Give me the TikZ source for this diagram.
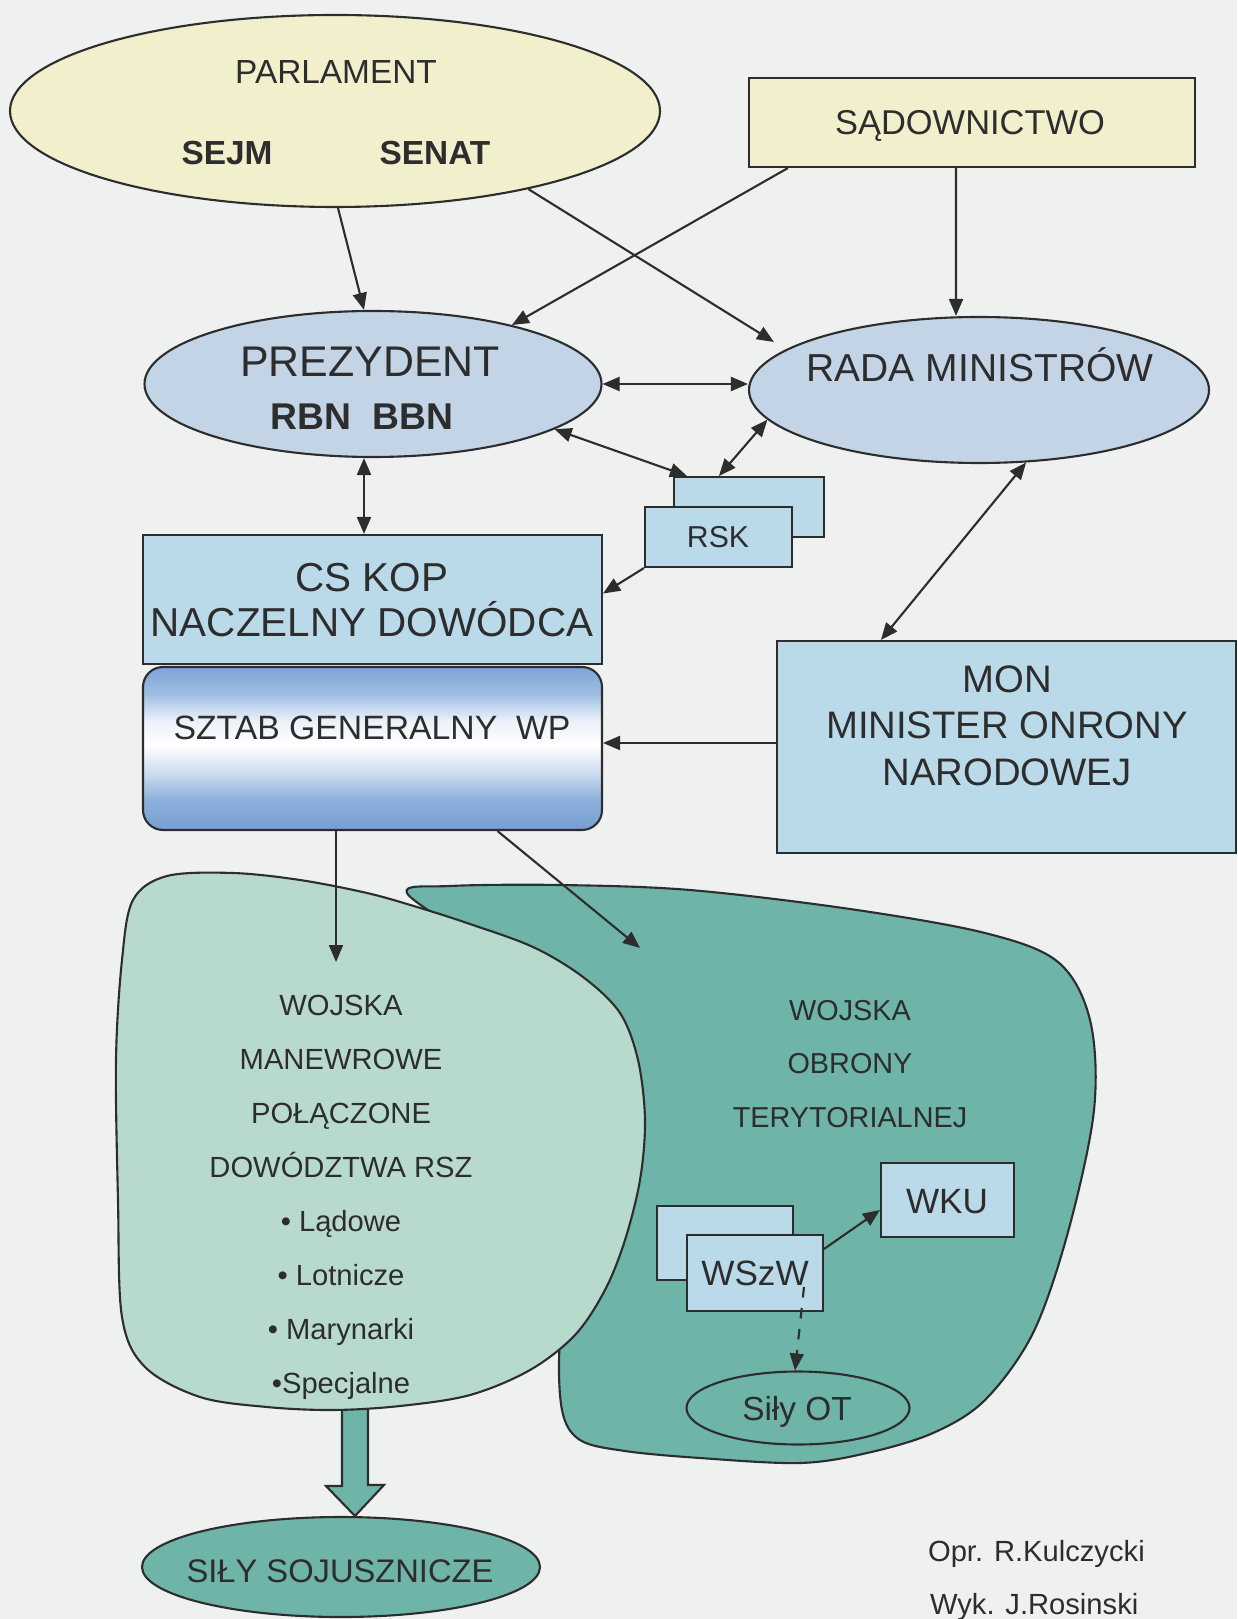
\documentclass[tikz,border=0pt]{standalone}
\usepackage{fontspec}
\setmainfont{Liberation Sans}
\usetikzlibrary{arrows.meta,shapes.geometric,calc}

\definecolor{bgcol}{RGB}{238,241,240}
\definecolor{linecol}{RGB}{45,45,45}
\definecolor{txtcol}{RGB}{45,45,45}
\definecolor{parlfill}{RGB}{241,239,204}
\definecolor{ovalblue}{RGB}{194,212,230}
\definecolor{boxblue}{RGB}{186,218,233}
\definecolor{sztabtop}{RGB}{125,165,214}
\definecolor{sztabup}{RGB}{160,190,228}
\definecolor{sztabpale}{RGB}{235,242,250}
\definecolor{sztablight}{RGB}{200,218,238}
\definecolor{sztabmid}{RGB}{140,175,220}
\definecolor{sztabbot}{RGB}{118,158,208}
\definecolor{mwfill}{RGB}{184,218,204}
\definecolor{otfill}{RGB}{110,180,168}

\pgfdeclareverticalshading{sztabshade}{100bp}{color(0bp)=(sztabbot); color(25bp)=(sztabbot);
    color(34bp)=(sztabmid); color(42bp)=(sztablight); color(51bp)=(white);
    color(58.5bp)=(sztabpale); color(66.5bp)=(sztabup); color(75bp)=(sztabtop); color(100bp)=(sztabtop)}

\newcommand{\fsz}[1]{\fontsize{#1}{#1}\selectfont}

\begin{document}
\begin{tikzpicture}[
    x=0.1mm, y=-0.1mm,
    >={Triangle[length=1.7mm,width=1.4mm]},
    line width=0.6pt,
    oval/.style={ellipse, draw=linecol, inner sep=0pt},
    box/.style={rectangle, draw=linecol, fill=boxblue, inner sep=0pt},
    lbl/.style={anchor=base, text=txtcol, inner sep=0pt},
    conn/.style={->, draw=linecol},
    both/.style={<->, draw=linecol}
]
% page
\path[use as bounding box, fill=bgcol] (0,0) rectangle (1237,1619);

% Wojska obrony terytorialnej (behind)
\draw[linecol, fill=otfill] plot[smooth cycle, tension=0.55] coordinates {
    (407,893) (450,886) (560,885) (690,890) (850,909) (985,933) (1058,962)
    (1090,1020) (1094,1110) (1068,1232) (1033,1333) (985,1400) (933,1433)
    (867,1453) (800,1463) (700,1458) (625,1451) (580,1440) (562,1410)
    (560,1340) (575,1250) (600,1120) (545,1000) (480,945)};

% Allied forces and the wide arrow
\node[oval, fill=otfill, minimum width=39.8mm, minimum height=10mm] (sojusz) at (341,1567) {};
\node[lbl, font=\fsz{9.3}] (sojuszname) at (340,1582) {SIŁY SOJUSZNICZE};
\coordinate (mwbot) at (355,1395);
\draw[linecol, fill=otfill] ($(mwbot)+(-13,0)$) -- ++(0,91) -- ++(-16,0)
    -- (sojusz.north -| mwbot) -- ++(29,-31) -- ++(-16,0) -- ($(mwbot)+(13,0)$) -- cycle;

% Wojska manewrowe (in front)
\draw[linecol, fill=mwfill] plot[smooth cycle, tension=0.55] coordinates {
    (116,1060) (122,960) (133,900) (167,876) (233,873) (300,880) (367,893)
    (417,907) (467,923) (533,947) (583,977) (620,1013) (638,1060) (645,1120)
    (640,1180) (625,1240) (605,1290) (575,1335) (530,1370) (470,1395)
    (400,1406) (333,1410) (267,1407) (200,1397) (145,1367) (122,1317) (118,1200)};
\coordinate (mwin) at (336,962);
\coordinate (otin) at (640,948);

\foreach \t [count=\i] in {WOJSKA, MANEWROWE, POŁĄCZONE, DOWÓDZTWA RSZ,
    • Lądowe, • Lotnicze, • Marynarki, •Specjalne} {
    \node[lbl, font=\fsz{8.3}] (mw\i) at (341,{1015+54*(\i-1)}) {\t};
}
\foreach \t [count=\i] in {WOJSKA, OBRONY, TERYTORIALNEJ} {
    \node[lbl, font=\fsz{8.2}] (ot\i) at (850,{1020+53.5*(\i-1)}) {\t};
}

% Top level
\node[oval, fill=parlfill, minimum width=65mm, minimum height=19.2mm] (parl) at (335,111) {};
\node[lbl, font=\fsz{9.5}] (parlname) at (336,84) {PARLAMENT};
\node[lbl, font=\fsz{9.5}\bfseries] (sejm) at (227,165) {SEJM};
\node[lbl, font=\fsz{9.5}\bfseries] (senat) at (435,165) {SENAT};
\node[box, fill=parlfill, minimum width=44.6mm, minimum height=8.9mm] (sad) at (972,122.5) {};
\node[lbl, font=\fsz{9.8}] (sadname) at (970,135) {SĄDOWNICTWO};

% President and government
\node[oval, fill=ovalblue, minimum width=45.7mm, minimum height=14.6mm] (prez) at (373,384) {};
\node[lbl, font=\fsz{12.2}] (prezname) at (370,377) {PREZYDENT};
\node[lbl, font=\fsz{10.6}\bfseries] (rbn) at (362,430) {RBN\ \ BBN};
\node[oval, fill=ovalblue, minimum width=46mm, minimum height=14.6mm] (rada) at (979,390) {};
\node[lbl, font=\fsz{11.1}] (radaname) at (980,382) {RADA MINISTRÓW};

% RSK
\node[box, minimum width=15mm, minimum height=6mm] (rskback) at (749,507) {};
\node[box, minimum width=14.7mm, minimum height=6mm] (rskfront) at (718.5,537) {};
\node[lbl, font=\fsz{8.6}] (rskname) at (718,548) {RSK};

% Command
\node[box, minimum width=45.9mm, minimum height=12.9mm] (cskop) at (372.5,599.5) {};
\node[lbl, font=\fsz{11.5}] (cskop1) at (372,591) {CS KOP};
\node[lbl, font=\fsz{11.5}] (cskop2) at (372,637) {NACZELNY DOWÓDCA};
\node[rectangle, rounded corners=2mm, draw=linecol, shading=sztabshade,
    minimum width=45.9mm, minimum height=16.3mm] (sztab) at (372.5,748.5) {};
\node[lbl, font=\fsz{9.6}] (sztabname) at (372,739) {SZTAB GENERALNY\ \ WP};

% MON
\node[box, minimum width=45.9mm, minimum height=21.2mm] (mon) at (1006.5,747) {};
\foreach \t [count=\i] in {MON, MINISTER ONRONY, NARODOWEJ} {
    \node[lbl, font=\fsz{10.9}] (mon\i) at (1007,{692+46.5*(\i-1)}) {\t};
}

% Territorial units
\node[box, minimum width=13.3mm, minimum height=7.4mm] (wku) at (947.5,1200) {};
\node[lbl, font=\fsz{10}] (wkuname) at (947,1213) {WKU};
\node[box, minimum width=13.6mm, minimum height=7.4mm] (wszwback) at (725,1243) {};
\node[box, minimum width=13.6mm, minimum height=7.6mm] (wszw) at (755,1273) {};
\node[lbl, font=\fsz{10}] (wszwname) at (755,1285) {WSzW};
\node[oval, fill=otfill, minimum width=22.3mm, minimum height=7.3mm] (silyot) at (798,1408) {};
\node[lbl, font=\fsz{9.5}] (silyotname) at (797,1420) {Siły OT};

% Credits
\node[lbl, anchor=base west, font=\fsz{8.3}] (opr) at (927,1561) {Opr. R.Kulczycki};
\node[lbl, anchor=base west, font=\fsz{8.3}] (wyk) at (929,1614) {Wyk. J.Rosinski};

% Connections
\draw[conn] ([xshift=0.3mm]parl.south) -- ([xshift=-0.9mm]prez.north);
\draw[conn] (parl.-22) -- ([xshift=2.6mm,yshift=4.8mm]rada.west);
\draw[conn] ([xshift=4mm]sad.south west) -- (prez.23);
\draw[conn] ([xshift=-1.6mm]sad.south) -- ([xshift=-2.3mm]rada.north);
\draw[both] (prez.east) -- (prez.east -| rada.west);
\draw[both] ([xshift=-0.9mm]prez.south) -- ([xshift=-0.9mm]prez.south |- cskop.north);
\draw[both] (prez.-14) -- ([xshift=1.4mm]rskback.north west);
\draw[both] (rada.188) -- ([xshift=4.6mm]rskback.north west);
\draw[conn] (rskfront.south west) -- ([yshift=0.6mm]cskop.east);
\draw[both] (rada.-57) -- ([xshift=10.5mm]mon.north west);
\draw[conn] ([yshift=0.4mm]mon.west) -- ([yshift=0.4mm]mon.west -| sztab.east);
\draw[conn] (sztab.south -| mwin) -- (mwin);
\draw[conn] ([xshift=12.5mm]sztab.south) -- (otin);
\draw[conn] ([yshift=-1.5mm]wszw.north east) -- ([yshift=-1mm]wku.west);
\draw[conn, dashed] ([xshift=4.9mm,yshift=-1.4mm]wszw.center) -- ([xshift=-0.3mm]silyot.north);

\end{tikzpicture}
\end{document}
